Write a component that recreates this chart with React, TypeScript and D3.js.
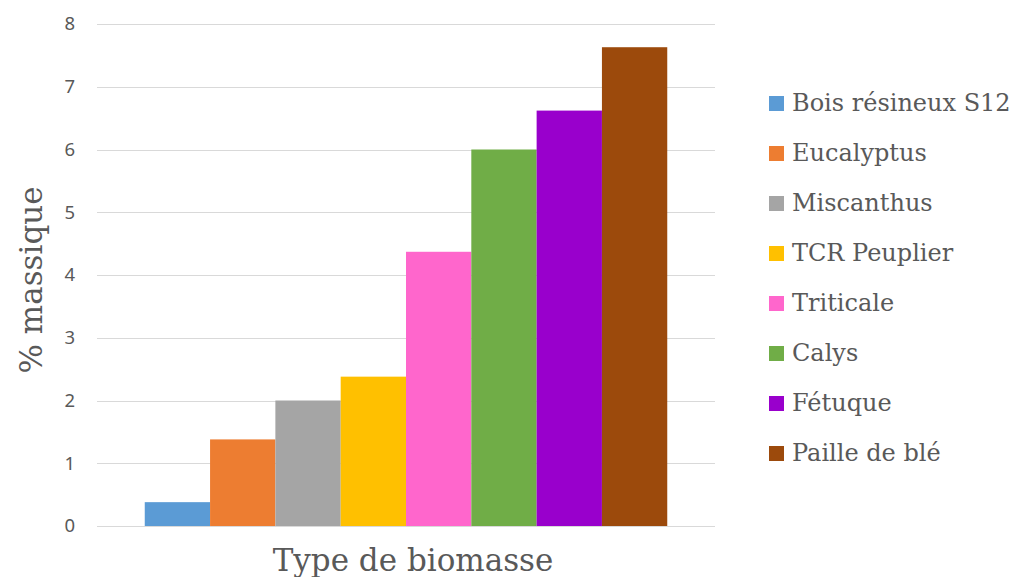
import * as d3 from "d3";
import { useEffect, useRef } from "react";

const series = [
  "Bois résineux S12",
  "Eucalyptus",
  "Miscanthus",
  "TCR Peuplier",
  "Triticale",
  "Calys",
  "Fétuque",
  "Paille de blé",
];
const values = [0.38, 1.38, 2.0, 2.38, 4.37, 6.0, 6.62, 7.63];
const colors = [
  "#5b9bd5",
  "#ed7d31",
  "#a5a5a5",
  "#ffc000",
  "#ff66cc",
  "#70ad47",
  "#9900cc",
  "#9c4a0c",
];
const yTicks = [0, 1, 2, 3, 4, 5, 6, 7, 8];

export default function App() {
  const svgRef = useRef<SVGSVGElement | null>(null);

  useEffect(() => {
    const svg = d3.select(svgRef.current);
    svg.selectAll("*").remove();

    const width = 1015;
    const height = 577;
    const plot = { left: 97, right: 715, top: 24, bottom: 526 };

    const y = d3.scaleLinear().domain([0, 8]).range([plot.bottom, plot.top]);

    // bars sit in one group centred in the plot area
    const groupW = 522.5;
    const cx = (plot.left + plot.right) / 2;
    const x = d3
      .scaleBand<string>()
      .domain(series)
      .range([cx - groupW / 2, cx + groupW / 2])
      .padding(0);

    // gridlines
    svg
      .append("g")
      .selectAll("line")
      .data(yTicks)
      .join("line")
      .attr("x1", plot.left)
      .attr("x2", plot.right)
      .attr("y1", (d) => Math.round(y(d)) + 0.5)
      .attr("y2", (d) => Math.round(y(d)) + 0.5)
      .attr("stroke", "#d9d9d9")
      .attr("stroke-width", 1);

    // y tick labels
    svg
      .append("g")
      .selectAll("text")
      .data(yTicks)
      .join("text")
      .attr("x", 75)
      .attr("y", (d) => y(d))
      .attr("dy", "0.35em")
      .attr("text-anchor", "end")
      .attr("font-family", "'Noto Sans', sans-serif")
      .attr("font-size", 18.5)
      .attr("fill", "#595959")
      .text((d) => d);

    // bars
    svg
      .append("g")
      .selectAll("rect")
      .data(values)
      .join("rect")
      .attr("x", (_, i) => x(series[i])!)
      .attr("width", x.bandwidth())
      .attr("y", (d) => y(d))
      .attr("height", (d) => y(0) - y(d))
      .attr("fill", (_, i) => colors[i]);

    // axis titles
    svg
      .append("text")
      .attr("x", 413)
      .attr("y", 571)
      .attr("text-anchor", "middle")
      .attr("font-family", "'DejaVu Serif', serif")
      .attr("font-size", 31)
      .attr("fill", "#595959")
      .text("Type de biomasse");

    svg
      .append("text")
      .attr("transform", "translate(42,280) rotate(-90)")
      .attr("text-anchor", "middle")
      .attr("font-family", "'DejaVu Serif', serif")
      .attr("font-size", 31)
      .attr("fill", "#595959")
      .text("% massique");

    // legend
    const legend = svg
      .append("g")
      .selectAll("g")
      .data(series)
      .join("g")
      .attr("transform", (_, i) => `translate(769,${103 + i * 50})`);

    legend
      .append("rect")
      .attr("x", 0)
      .attr("y", -7)
      .attr("width", 15)
      .attr("height", 15)
      .attr("fill", (_, i) => colors[i]);

    legend
      .append("text")
      .attr("x", 23)
      .attr("y", 0)
      .attr("dy", "0.35em")
      .attr("font-family", "'DejaVu Serif', serif")
      .attr("font-size", 24)
      .attr("fill", "#595959")
      .text((d) => d);

    svg.attr("width", width).attr("height", height);
  }, []);

  return (
    <svg
      ref={svgRef}
      width={1015}
      height={577}
      style={{ position: "absolute", left: 0, top: 0, background: "#fff" }}
    ></svg>
  );
}
